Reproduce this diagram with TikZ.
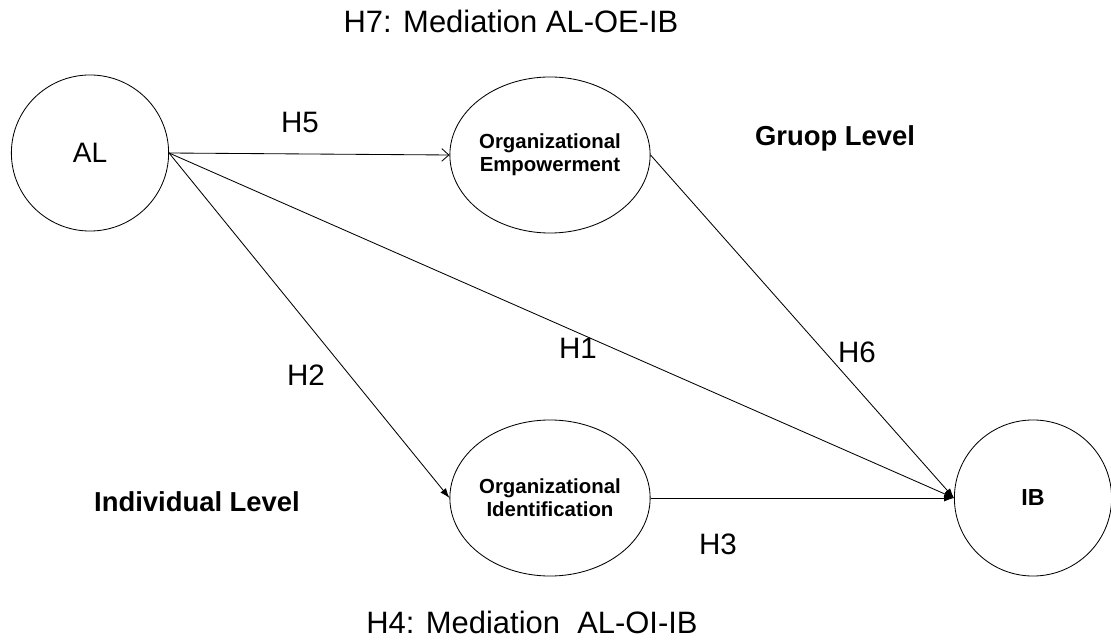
\documentclass[tikz,border=0pt]{standalone}
\usepackage{fontspec}
\setmainfont{Liberation Sans}
\usetikzlibrary{arrows.meta,shapes.geometric}
\tikzset{
  latent/.style={draw,ellipse,line width=0.6pt,minimum width=3.93cm,minimum height=3.9cm,inner sep=0pt,align=center},
  hyp/.style={font=\fontsize{21}{25}\selectfont},
  lvl/.style={font=\bfseries\fontsize{19.5}{23}\selectfont},
  con/.style={line width=0.6pt,-{Latex[length=7pt,width=5pt]}}
}
\begin{document}
\begin{tikzpicture}[x=0.025cm,y=-0.025cm]
\useasboundingbox (0,0) rectangle (1111,642);
\node[latent,font=\fontsize{20}{24}\selectfont] (AL) at (90,153) {AL};
\node[latent,font=\bfseries\fontsize{14.5}{16.5}\selectfont] (OE) at (550,155) {Organizational\\Empowerment};
\node[latent,font=\bfseries\fontsize{14.5}{16.5}\selectfont] (OI) at (550,498) {Organizational\\Identification};
\node[latent,font=\bfseries\fontsize{16.5}{20}\selectfont] (IB) at (1033,498) {IB};

\draw[line width=0.6pt,-{Straight Barb[length=5pt,width=9pt]}] (AL.east)--(OE.west);
\draw[con] (AL.east)--(OI.west);
\draw[con] (AL.east)--(IB.west);
\draw[con] (OE.east)--(IB.west);
\draw[con] (OI.east)--(IB.west);

\node[hyp] (h5) at (300,122) {H5};
\node[hyp] (h1) at (578,348) {H1};
\node[hyp] (h6) at (857,352) {H6};
\node[hyp] (h2) at (306,375) {H2};
\node[hyp] (h3) at (718,544) {H3};
\node[lvl] (grp) at (835,138) {Gruop Level};
\node[lvl] (ind) at (197,502) {Individual Level};
\node[font=\fontsize{22}{26}\selectfont] (h7) at (511,21) {H7: Mediation AL-OE-IB};
\node[font=\fontsize{22}{26}\selectfont] (h4) at (532,622) {H4: Mediation\ \ AL-OI-IB};
\end{tikzpicture}
\end{document}
